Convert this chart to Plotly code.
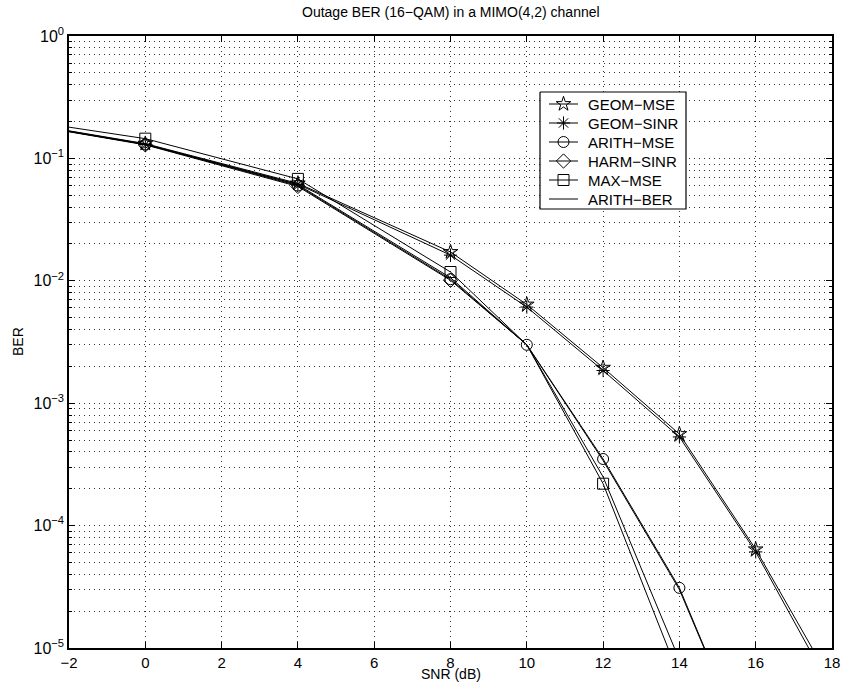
import plotly.graph_objects as go

# ---- data ----
snr = [-2, 0, 4, 8, 10, 12, 14, 16, 18]
geom_mse  = [0.168, 0.132, 0.0625, 0.0172, 0.0064, 0.00195, 0.00056, 0.000064, 0.0000052]
geom_sinr = [0.166, 0.130, 0.0615, 0.0162, 0.0061, 0.00185, 0.00053, 0.000061, 0.0000045]
arith_mse = [0.166, 0.130, 0.0600, 0.0103, 0.0030, 0.00035, 0.000031, 0.0000010, None]
harm_sinr = [0.165, 0.129, 0.0590, 0.0101, 0.0030, 0.00034, 0.000030, 0.0000010, None]
max_mse   = [0.180, 0.145, 0.0680, 0.0118, 0.0030, 0.00022, 0.0000058, None, None]
arith_ber = [0.167, 0.131, 0.0610, 0.0106, 0.0030, 0.00025, 0.0000080, None, None]

# SNR points carrying a marker for each series
marker_snr = {
    "GEOM−MSE":  [0, 4, 8, 10, 12, 14, 16],
    "GEOM−SINR": [0, 4, 8, 10, 12, 14, 16],
    "ARITH−MSE": [0, 4, 8, 10, 12, 14],
    "HARM−SINR": [0, 4, 8],
    "MAX−MSE":   [0, 4, 8, 12],
    "ARITH−BER": [],
}
series = [
    ("GEOM−MSE", geom_mse, "star-open"),
    ("GEOM−SINR", geom_sinr, "asterisk-open"),
    ("ARITH−MSE", arith_mse, "circle-open"),
    ("HARM−SINR", harm_sinr, "diamond-open"),
    ("MAX−MSE", max_mse, "square-open"),
    ("ARITH−BER", arith_ber, None),
]

ytick_vals = [1e-5, 1e-4, 1e-3, 1e-2, 1e-1, 1e0]
ytick_text = ["10<sup>−5</sup>", "10<sup>−4</sup>", "10<sup>−3</sup>",
              "10<sup>−2</sup>", "10<sup>−1</sup>", "10<sup>0</sup>"]
xtick_vals = list(range(-2, 19, 2))

TITLE = "Outage BER (16−QAM) in a MIMO(4,2) channel"
XLABEL = "SNR (dB)"
YLABEL = "BER"

# ---- layout constants (pixels) ----
W, H = 843, 683
L, R, T, B = 69, 11, 36, 35
PW, PH = W - L - R, H - T - B
FONT = "Liberation Sans, Arial, Helvetica, sans-serif"
GRID = dict(showgrid=True, gridcolor="#333", griddash="1px,4px", gridwidth=1)
MK = 11

fig = go.Figure()

for name, vals, sym in series:
    pts = [(x, y) for x, y in zip(snr, vals) if y is not None]
    fig.add_trace(go.Scatter(
        x=[p[0] for p in pts], y=[p[1] for p in pts], mode="lines",
        line=dict(color="black", width=1), showlegend=False,
        hoverinfo="skip"))
    if sym:
        ms = marker_snr[name]
        fig.add_trace(go.Scatter(
            x=[x for x, y in pts if x in ms], y=[y for x, y in pts if x in ms],
            mode="markers", showlegend=False,
            marker=dict(symbol=sym, size=MK, color="black",
                        line=dict(color="black", width=1))))

# ---- hand-drawn legend on a pixel overlay axis (x2/y2 = plot-area pixels) ----
box_x0, box_x1, box_y0, box_y1 = 540 - L, 686 - L, 92 - T, 209 - T
row0, row_dy = 104 - T, 19.0
ln_x0, ln_x1, txt_x = 549 - L, 578 - L, 586 - L

fig.add_trace(go.Scatter(
    x=[box_x0, box_x1, box_x1, box_x0, box_x0],
    y=[box_y0, box_y0, box_y1, box_y1, box_y0],
    xaxis="x2", yaxis="y2", mode="lines", fill="toself",
    fillcolor="white", line=dict(color="black", width=1.2),
    showlegend=False, hoverinfo="skip"))

annotations = []
sx, sy, lx, ly, lsym = [], [], [], [], []
for i, (name, vals, sym) in enumerate(series):
    yy = row0 + i * row_dy
    sx += [ln_x0, ln_x1, None]
    sy += [yy, yy, None]
    annotations.append(dict(text=name, xref="x2", yref="y2", x=txt_x, y=yy,
                            xanchor="left", yanchor="middle", showarrow=False,
                            font=dict(size=15)))
    if sym:
        lx.append((ln_x0 + ln_x1) / 2)
        ly.append(yy)
        lsym.append(sym)
fig.add_trace(go.Scatter(
    x=sx, y=sy, xaxis="x2", yaxis="y2", mode="lines",
    line=dict(color="black", width=1), showlegend=False, hoverinfo="skip"))
fig.add_trace(go.Scatter(
    x=lx, y=ly, xaxis="x2", yaxis="y2", mode="markers", showlegend=False,
    hoverinfo="skip",
    marker=dict(symbol=lsym, size=MK, color="black",
                line=dict(color="black", width=1))))

# titles
annotations += [
    dict(text=TITLE, xref="paper", yref="paper", x=0.5,
         y=1 + (T - 12) / PH, xanchor="center", yanchor="middle",
         showarrow=False, font=dict(size=14)),
    dict(text=XLABEL, xref="paper", yref="paper", x=0.5,
         y=-(674 - (H - B)) / PH, xanchor="center", yanchor="middle",
         showarrow=False, font=dict(size=14)),
    dict(text=YLABEL, xref="paper", yref="paper", x=-(L - 18) / PW,
         y=0.5, xanchor="center", yanchor="middle", textangle=-90,
         showarrow=False, font=dict(size=14)),
]

minor_vals = [m * 10 ** e for e in range(-5, 0) for m in range(2, 10)]

fig.update_layout(
    width=W, height=H,
    margin=dict(l=L, r=R, t=T, b=B),
    paper_bgcolor="white", plot_bgcolor="white",
    font=dict(family=FONT, size=14, color="black"),
    showlegend=False,
    annotations=annotations,
    xaxis2=dict(overlaying="x", range=[0, PW], visible=False, fixedrange=True),
    yaxis2=dict(overlaying="y", range=[PH, 0], visible=False, fixedrange=True),
)
fig.update_layout(
    xaxis=dict(
        range=[-2, 18], tickvals=xtick_vals,
        ticktext=[("−" + str(-v)) if v < 0 else str(v) for v in xtick_vals],
        ticks="inside", ticklen=6, tickcolor="black", tickfont=dict(size=15),
        ticklabelstandoff=0,
        showline=True, linecolor="black", linewidth=1.5, mirror="ticks",
        zeroline=False, automargin=False, **GRID),
    yaxis=dict(
        type="log", range=[-5, 0], tickvals=ytick_vals, ticktext=ytick_text,
        ticks="inside", ticklen=6, tickcolor="black", tickfont=dict(size=16),
        showline=True, linecolor="black", linewidth=1.5, mirror="ticks",
        zeroline=False, automargin=False, **GRID,
        minor=dict(tickvals=minor_vals, ticks="inside", ticklen=3,
                   tickcolor="black", **GRID)),
)

fig.write_html("out.html", config={"displayModeBar": False},
               post_script="document.body.style.margin='0px';"
                           "document.body.style.overflow='hidden';")
